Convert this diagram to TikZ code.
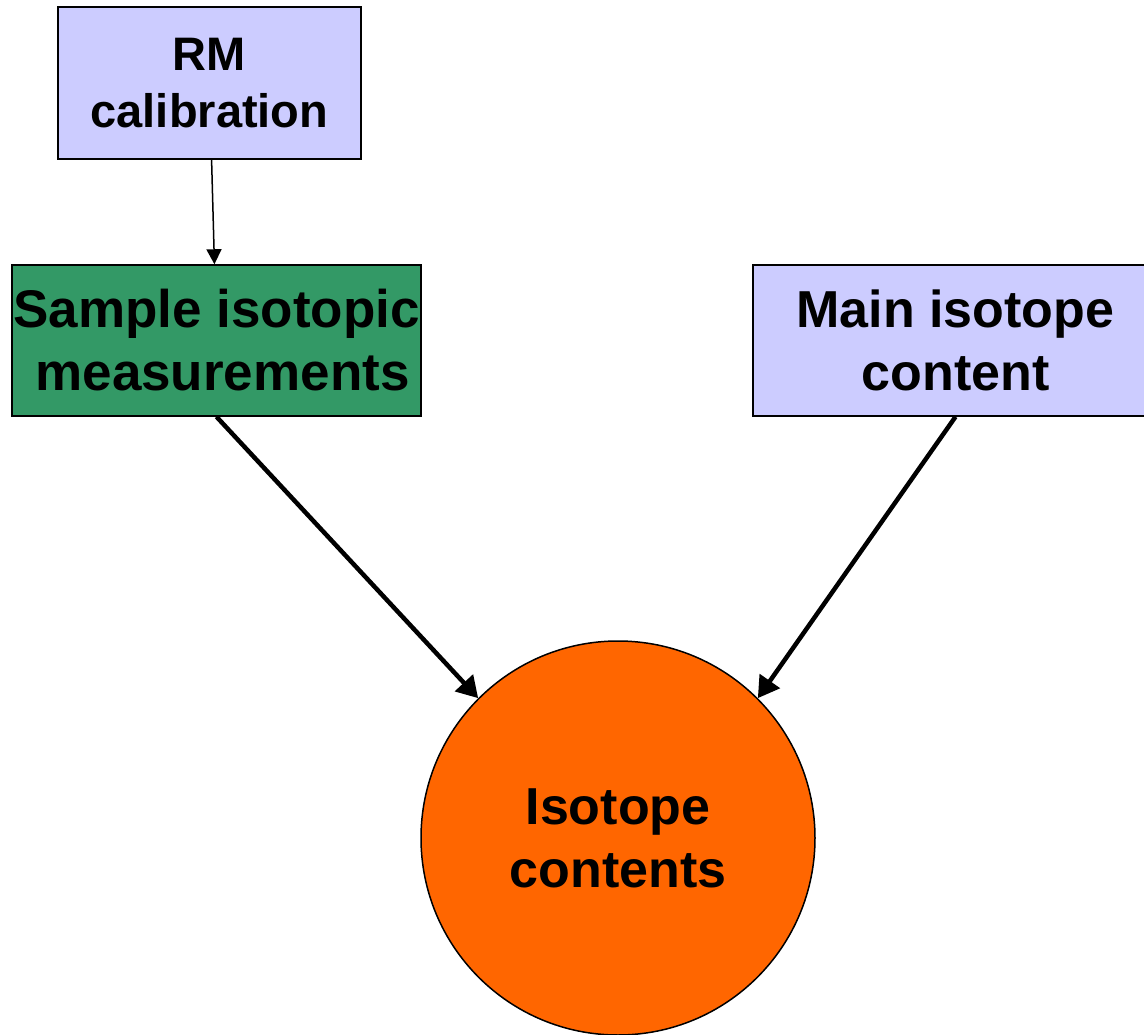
\documentclass[tikz,border=0pt]{standalone}
\usepackage{fontspec}
\setmainfont{Liberation Sans}
\usetikzlibrary{arrows.meta}

\definecolor{lavender}{HTML}{CCCCFF}
\definecolor{seagreen}{HTML}{339966}
\definecolor{brightorange}{HTML}{FF6600}

\tikzset{
    box/.style={draw, line width=1.5pt, inner sep=0pt, align=center,
        font=\fontsize{52}{63}\selectfont\bfseries},
    thinarrow/.style={line width=1.5pt, -{Triangle[length=15pt,width=15pt]}},
    thickarrow/.style={line width=4.5pt, -{Triangle[length=21pt,width=24pt]}}
}

\begin{document}
\begin{tikzpicture}[x=1pt, y=-1pt]
    \useasboundingbox (0,0) rectangle (1144,1035);

    % Draw nodes
    \node[box, fill=lavender, minimum width=303pt, minimum height=152pt,
        font=\fontsize{47}{57}\selectfont\bfseries] (rm) at (209.5, 83) {RM\\calibration};
    \node[box, fill=seagreen, minimum width=409pt, minimum height=151pt,
        font=\fontsize{53}{63}\selectfont\bfseries] (sample) at (216.5, 340.5) {Sample isotopic\\\hspace*{12pt}measurements};
    \node[box, fill=lavender, minimum width=405pt, minimum height=151pt] (main) at (955.5, 340.5) {Main isotope\\content};
    \node[box, circle, fill=brightorange, minimum size=394pt] (iso) at (618, 838) {Isotope\\contents};

    % Draw edges (directed)
    \draw[thinarrow] (rm) -- (sample); % RM calibration into the measurements
    \draw[thickarrow] (sample.south) -- (iso.135); % Measurements into the contents
    \draw[thickarrow] (main.south) -- (iso.45); % Main isotope into the contents
\end{tikzpicture}
\end{document}
